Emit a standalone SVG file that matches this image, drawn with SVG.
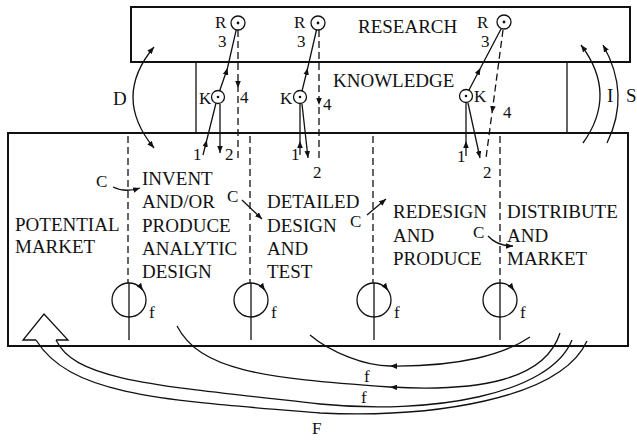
<svg xmlns="http://www.w3.org/2000/svg" width="637" height="440" viewBox="0 0 637 440">
<defs>
<style>
.box{fill:none;stroke:#111;stroke-width:2}
.ln{fill:none;stroke:#111;stroke-width:1.3}
.ds{fill:none;stroke:#111;stroke-width:1.3;stroke-dasharray:7 4}
.t{font-family:"Liberation Serif","Times New Roman",serif;font-size:19px;fill:#111}
.s{font-family:"Liberation Serif","Times New Roman",serif;font-size:17px;fill:#111}
.dot{fill:#111}
</style>
<marker id="ah" viewBox="0 0 10 8" refX="10" refY="4" markerWidth="7" markerHeight="5.6" markerUnits="userSpaceOnUse" orient="auto-start-reverse"><path d="M0,0 L10,4 L0,8 z" fill="#111"/></marker>
</defs>
<rect width="637" height="440" fill="#fff"/>

<g id="research">
<rect class="box" x="131" y="7" width="499" height="55"/>
<text class="t" x="358" y="33">RESEARCH</text>
</g>
<g id="knowledge">
<line class="ln" x1="196" y1="62" x2="196" y2="133"/>
<line class="ln" x1="567" y1="62" x2="567" y2="133"/>
<text class="t" x="333" y="87">KNOWLEDGE</text>
</g>
<g id="main">
<rect class="box" x="8" y="133" width="620" height="213"/>
<line class="ds" x1="128" y1="136" x2="128" y2="283"/>
<line class="ds" x1="250" y1="136" x2="250" y2="283"/>
<line class="ds" x1="373" y1="136" x2="373" y2="283"/>
<line class="ds" x1="500" y1="136" x2="500" y2="283"/>
</g>
<g id="potential-market">
<text class="t" x="15" y="231">POTENTIAL</text>
<text class="t" x="15" y="253">MARKET</text>
</g>
<g id="invent">
<text class="t" x="142" y="185">INVENT</text>
<text class="t" x="142" y="208">AND/OR</text>
<text class="t" x="142" y="232">PRODUCE</text>
<text class="t" x="142" y="255">ANALYTIC</text>
<text class="t" x="142" y="278">DESIGN</text>
</g>
<g id="detailed">
<text class="t" x="267" y="208">DETAILED</text>
<text class="t" x="267" y="232">DESIGN</text>
<text class="t" x="267" y="255">AND</text>
<text class="t" x="267" y="278">TEST</text>
</g>
<g id="redesign">
<text class="t" x="393" y="218">REDESIGN</text>
<text class="t" x="393" y="242">AND</text>
<text class="t" x="393" y="265">PRODUCE</text>
</g>
<g id="distribute">
<text class="t" x="507" y="218">DISTRIBUTE</text>
<text class="t" x="507" y="242">AND</text>
<text class="t" x="507" y="265">MARKET</text>
</g>

<g id="r1"><circle class="ln" cx="238" cy="23" r="7"/><circle class="dot" cx="238" cy="23" r="1.4"/><text class="s" x="215" y="28">R</text><text class="s" x="218" y="47">3</text></g>
<g id="r2"><circle class="ln" cx="318" cy="23" r="7"/><circle class="dot" cx="318" cy="23" r="1.4"/><text class="s" x="294" y="28">R</text><text class="s" x="297" y="47">3</text></g>
<g id="r3"><circle class="ln" cx="504" cy="22" r="7"/><circle class="dot" cx="504" cy="22" r="1.4"/><text class="s" x="477" y="28">R</text><text class="s" x="481" y="47">3</text></g>
<g id="k1"><circle class="ln" cx="218" cy="97" r="6.5"/><circle class="dot" cx="218" cy="97" r="1.3"/><text class="s" x="199" y="104">K</text></g>
<g id="k2"><circle class="ln" cx="300" cy="97" r="6.5"/><circle class="dot" cx="300" cy="97" r="1.3"/><text class="s" x="280" y="104">K</text></g>
<g id="k3"><circle class="ln" cx="466" cy="96" r="6.5"/><circle class="dot" cx="466" cy="96" r="1.3"/><text class="s" x="474" y="102">K</text></g>

<g id="loop1"><circle class="ln" cx="129" cy="300" r="17"/><line class="ln" x1="129" y1="283" x2="129" y2="340"/><path class="ln" d="M137.5 285.3 A17 17 0 0 1 142.9 290.2" marker-end="url(#ah)"/><text class="s" x="149" y="318">f</text></g>
<g id="loop2"><circle class="ln" cx="251" cy="300" r="17"/><line class="ln" x1="251" y1="283" x2="251" y2="340"/><path class="ln" d="M259.5 285.3 A17 17 0 0 1 264.9 290.2" marker-end="url(#ah)"/><text class="s" x="271" y="318">f</text></g>
<g id="loop3"><circle class="ln" cx="374" cy="300" r="17"/><line class="ln" x1="374" y1="283" x2="374" y2="340"/><path class="ln" d="M382.5 285.3 A17 17 0 0 1 387.9 290.2" marker-end="url(#ah)"/><text class="s" x="394" y="318">f</text></g>
<g id="loop4"><circle class="ln" cx="500" cy="300" r="17"/><line class="ln" x1="500" y1="283" x2="500" y2="340"/><path class="ln" d="M508.5 285.3 A17 17 0 0 1 513.9 290.2" marker-end="url(#ah)"/><text class="s" x="520" y="318">f</text></g>

<g id="connectors">
<polyline class="ln" points="219.7,90.7 227.5,68 236.2,29.8" marker-mid="url(#ah)"/>
<polyline class="ds" points="238,30 238,88 238,162" marker-mid="url(#ah)"/>
<polyline class="ln" points="203,155 206.8,140 216,103" marker-mid="url(#ah)"/>
<line class="ln" x1="220" y1="104" x2="220" y2="153" marker-end="url(#ah)"/>
<polyline class="ln" points="302,91 307.7,68 316.5,30" marker-mid="url(#ah)"/>
<polyline class="ds" points="319,30 319,105 319,162" marker-mid="url(#ah)"/>
<polyline class="ln" points="300,155 300,141 300,104" marker-mid="url(#ah)"/>
<line class="ln" x1="302" y1="104" x2="308" y2="158" marker-end="url(#ah)"/>
<polyline class="ln" points="469,90 480.5,68 501,29" marker-mid="url(#ah)"/>
<polyline class="ds" points="503,30 492,113 486,158" marker-mid="url(#ah)"/>
<polyline class="ln" points="466,156 466,141 466,103" marker-mid="url(#ah)"/>
<line class="ln" x1="468" y1="103" x2="480" y2="158" marker-end="url(#ah)"/>
<path class="ln" d="M154 47 Q112 97 154 148" marker-start="url(#ah)" marker-end="url(#ah)"/>
<path class="ln" d="M583 143 Q618 94 581 45" marker-end="url(#ah)"/>
<path class="ln" d="M607 143 Q631 94 603 45" marker-end="url(#ah)"/>
<path class="ln" d="M113 187 Q125 193 140 188" marker-end="url(#ah)"/>
<path class="ln" d="M242 200 L262 219" marker-end="url(#ah)"/>
<path class="ln" d="M367 215 L386 199" marker-end="url(#ah)"/>
<path class="ln" d="M488 236 Q497 246 513 246" marker-end="url(#ah)"/>
<path class="ln" d="M530 337 C505 354 460 367 390 366" marker-end="url(#ah)"/>
<path class="ln" d="M390 366 C365 366 330 352 310 335"/>
<path class="ln" d="M560 333 C545 380 480 392 390 387" marker-end="url(#ah)"/>
<path class="ln" d="M390 387 C260 378 200 370 177 326"/>
<path class="ln" d="M36 340 L23 340 L44 314 L68 340 L56 340"/>
<path class="ln" d="M36 340 C70 395 160 400 320 413 C430 418 560 400 587 341"/>
<path class="ln" d="M56 340 C75 380 150 385 320 404 C430 415 550 395 572 340"/>
</g>

<g id="labels">
<text class="s" x="240" y="103">4</text>
<text class="s" x="323" y="110">4</text>
<text class="s" x="503" y="118">4</text>
<text class="s" x="193" y="160">1</text>
<text class="s" x="225" y="160">2</text>
<text class="s" x="291" y="160">1</text>
<text class="s" x="313" y="178">2</text>
<text class="s" x="457" y="162">1</text>
<text class="s" x="483" y="178">2</text>
<text class="t" x="113" y="105">D</text>
<text class="t" x="607" y="102">I</text>
<text class="t" x="626" y="102">S</text>
<text class="s" x="96" y="187">C</text>
<text class="s" x="227" y="202">C</text>
<text class="s" x="350" y="227">C</text>
<text class="s" x="473" y="238">C</text>
<text class="s" x="364" y="382">f</text>
<text class="s" x="361" y="403">f</text>
<text class="s" x="312" y="434">F</text>
</g>
</svg>
